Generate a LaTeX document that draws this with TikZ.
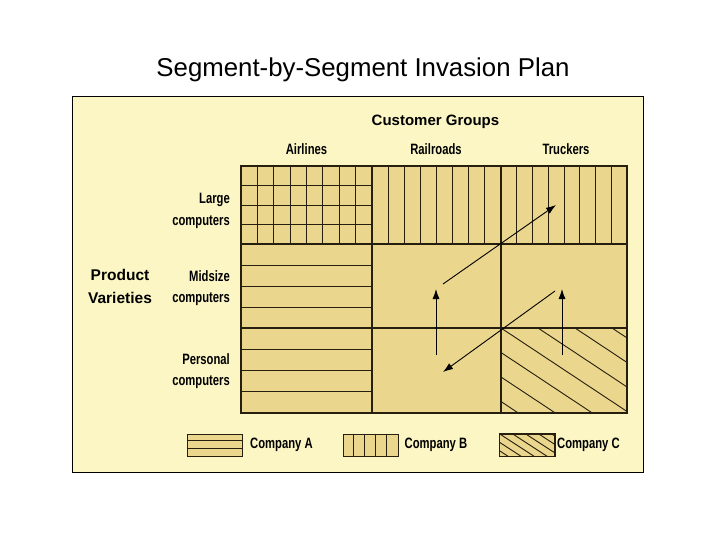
\documentclass[tikz,border=0pt]{standalone}
\usepackage{fontspec}
\setmainfont{Liberation Sans}
\newfontfamily\narrowfont[FakeStretch=0.75]{Liberation Sans Bold}
\usetikzlibrary{arrows.meta, positioning}
\definecolor{panelyellow}{RGB}{251,246,196}
\definecolor{celltan}{RGB}{234,214,140}
\definecolor{inkbrown}{RGB}{38,30,14}

\begin{document}
\begin{tikzpicture}[x=1pt, y=-1pt,
  collabel/.style={font=\narrowfont\fontsize{15}{18}\selectfont, anchor=base, inner sep=1pt},
  rowlabel/.style={font=\narrowfont\fontsize{15}{21.5}\selectfont, align=right, anchor=east, inner sep=1pt},
  headlabel/.style={font=\bfseries\fontsize{15.5}{23}\selectfont, inner sep=1pt},
  swatch/.style={draw=inkbrown, fill=celltan, line width=1pt, minimum width=55pt, minimum height=22pt, inner sep=0pt},
  gridline/.style={draw=inkbrown, line width=1.2pt},
  hatchline/.style={draw=inkbrown, line width=0.9pt},
  movearrow/.style={draw=black, line width=0.9pt, -{Latex[length=10pt, width=7pt]}},
]
\useasboundingbox (0,0) rectangle (720,540);
\def\xA{241} \def\xB{372} \def\xC{501} \def\xD{627} % column edges
\def\yA{166} \def\yB{244} \def\yC{328} \def\yD{413} % row edges

% Title and panel
\node[font=\fontsize{25.8}{30}\selectfont, anchor=base] (title) at (363,77) {Segment-by-Segment Invasion Plan};
\draw[fill=panelyellow, line width=0.8pt] (72,96) rectangle (643,472);

% === Headings ===
\node[headlabel, font=\bfseries\fontsize{15}{18}\selectfont, anchor=base] (groups) at (435.5,126) {Customer Groups};
\node[collabel] (airlines) at (306.5,155) {Airlines};
\node[collabel] (railroads) at (436,155) {Railroads};
\node[collabel] (truckers) at (566,155) {Truckers};

\node[headlabel, align=center] (varieties) at (120,286) {Product\\Varieties};
\node[rowlabel] (large) at (231,211) {Large\\computers};
\node[rowlabel] (midsize) at (231,288) {Midsize\\computers};
\node[rowlabel] (personal) at (231,371) {Personal\\computers};

% === Cells ===
\fill[celltan] (\xA,\yA) rectangle (\xD,\yD);

% Company B: large computers, all groups
\foreach \xl/\xr in {\xA/\xB, \xB/\xC, \xC/\xD}
  \foreach \i in {1,...,7}
    \draw[hatchline] ({\xl+\i*(\xr-\xl)/8}, \yA) -- ({\xl+\i*(\xr-\xl)/8}, \yB);

% Company A: airlines, all varieties
\foreach \i in {1,2,3} {
  \draw[hatchline] (\xA, {\yA+\i*(\yB-\yA)/4}) -- (\xB, {\yA+\i*(\yB-\yA)/4});
  \draw[hatchline] (\xA, {\yB+\i*(\yC-\yB)/4}) -- (\xB, {\yB+\i*(\yC-\yB)/4});
  \draw[hatchline] (\xA, {\yC+\i*(\yD-\yC)/4}) -- (\xB, {\yC+\i*(\yD-\yC)/4});
}

% Company C: truckers, personal computers
\begin{scope}
  \clip (\xC,\yC) rectangle (\xD,\yD);
  \foreach \k in {-3,...,3}
    \draw[hatchline] ({\xC+\k*37}, \yC) -- ++(160,106);
\end{scope}

% Grid
\draw[gridline] (\xA,\yA) rectangle (\xD,\yD);
\draw[gridline] (\xB,\yA) -- (\xB,\yD);
\draw[gridline] (\xC,\yA) -- (\xC,\yD);
\draw[gridline] (\xA,\yB) -- (\xD,\yB);
\draw[gridline] (\xA,\yC) -- (\xD,\yC);

% === Moves ===
\coordinate (railMid) at (443,284);
\coordinate (truckLarge) at (556,205);
\coordinate (truckMid) at (555,291);
\coordinate (railPers) at (443,372);
\coordinate (railPersUp) at (436,355);
\coordinate (railMidUp) at (436,289);
\coordinate (truckPersUp) at (562,355);
\coordinate (truckMidUp) at (562,289);

\draw[movearrow] (railMid) -- (truckLarge);
\draw[movearrow] (truckMid) -- (railPers);
\draw[movearrow] (railPersUp) -- (railMidUp);
\draw[movearrow] (truckPersUp) -- (truckMidUp);

% === Legend ===
\node[swatch] (swatchA) at (215,445) {};
\node[swatch] (swatchB) at (370.5,445) {};
\node[swatch] (swatchC) at (527,445) {};

\foreach \i in {1,2}
  \draw[hatchline] ([yshift={-\i*22/3}]swatchA.north west) -- ([yshift={-\i*22/3}]swatchA.north east);
\foreach \i in {1,...,4}
  \draw[hatchline] ([xshift={\i*11}]swatchB.north west) -- ([xshift={\i*11}]swatchB.south west);
\begin{scope}
  \clip (swatchC.north west) rectangle (swatchC.south east);
  \foreach \k in {-2,...,4}
    \draw[hatchline] ([xshift={\k*13}]swatchC.north west) -- ++(40,26);
\end{scope}
\draw[line width=1pt, draw=inkbrown] (swatchC.north west) rectangle (swatchC.south east);

\node[collabel, right=6pt of swatchA, anchor=west] (companyA) {Company A};
\node[collabel, right=5pt of swatchB, anchor=west] (companyB) {Company B};
\node[collabel, right=1pt of swatchC, anchor=west] (companyC) {Company C};
\end{tikzpicture}
\end{document}
